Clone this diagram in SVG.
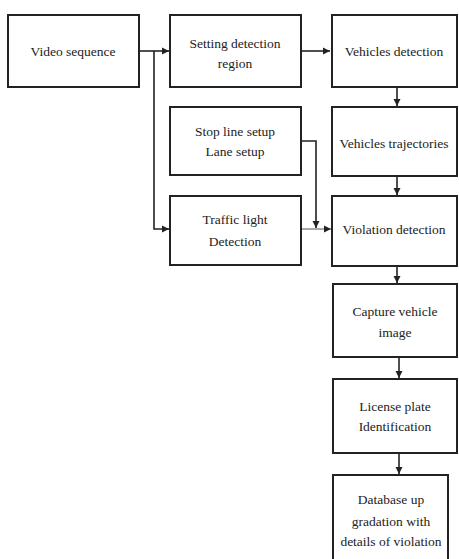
<svg xmlns="http://www.w3.org/2000/svg" width="459" height="559" viewBox="0 0 459 559">
<style>
.box{fill:#fff;stroke:#222;stroke-width:2}
.t{font-family:"Liberation Serif","Times New Roman",serif;font-size:13.5px;fill:#222;text-anchor:middle}
.c{fill:none;stroke:#222;stroke-width:1.6}
.thin{fill:none;stroke:#555;stroke-width:1}
</style>
<defs>
<marker id="ah" markerWidth="8" markerHeight="8" refX="7" refY="4" orient="auto" markerUnits="userSpaceOnUse">
<path d="M0,0.5 L7,4 L0,7.5 Z" fill="#222"/>
</marker>
</defs>
<rect width="459" height="559" fill="#fff"/>
<g id="connectors">
<path class="c" d="M139,51 H169" marker-end="url(#ah)"/>
<path class="c" d="M154,51 V229 H169" marker-end="url(#ah)"/>
<path class="c" d="M301,51 H330" marker-end="url(#ah)" stroke-width="2.4"/>
<path class="c" d="M397,87 V106" marker-end="url(#ah)"/>
<path class="c" d="M301,141 H316 V228" marker-end="url(#ah)"/>
<path class="thin" d="M301,229 H331" marker-end="url(#ah)"/>
<path class="c" d="M397,176 V195" marker-end="url(#ah)"/>
<path class="c" d="M397,266 V283" marker-end="url(#ah)"/>
<path class="c" d="M399,357 V378" marker-end="url(#ah)"/>
<path class="c" d="M399,453 V474" marker-end="url(#ah)"/>
</g>
<g id="video">
<rect class="box" x="8" y="15" width="131" height="72"/>
<text class="t" x="73" y="56">Video sequence</text>
</g>
<g id="setting">
<rect class="box" x="170" y="15" width="131" height="72"/>
<text class="t" x="235" y="48">Setting detection</text>
<text class="t" x="235" y="68">region</text>
</g>
<g id="vdetect">
<rect class="box" x="332" y="15" width="125" height="72"/>
<text class="t" x="394" y="56">Vehicles detection</text>
</g>
<g id="stopline">
<rect class="box" x="170" y="107" width="131" height="68"/>
<text class="t" x="235" y="136">Stop line setup</text>
<text class="t" x="235" y="156">Lane setup</text>
</g>
<g id="traj">
<rect class="box" x="332" y="107" width="125" height="69"/>
<text class="t" x="394" y="148">Vehicles trajectories</text>
</g>
<g id="traffic">
<rect class="box" x="170" y="196" width="131" height="69"/>
<text class="t" x="235" y="224">Traffic light</text>
<text class="t" x="235" y="246">Detection</text>
</g>
<g id="violation">
<rect class="box" x="332" y="196" width="125" height="70"/>
<text class="t" x="394" y="234">Violation detection</text>
</g>
<g id="capture">
<rect class="box" x="333" y="284" width="124" height="73"/>
<text class="t" x="395" y="316">Capture vehicle</text>
<text class="t" x="395" y="337">image</text>
</g>
<g id="license">
<rect class="box" x="333" y="379" width="124" height="74"/>
<text class="t" x="395" y="411">License plate</text>
<text class="t" x="395" y="431">Identification</text>
</g>
<g id="database">
<rect class="box" x="333" y="475" width="115" height="90"/>
<text class="t" x="391" y="504">Database up</text>
<text class="t" x="391" y="526">gradation with</text>
<text class="t" x="391" y="546">details of violation</text>
</g>
</svg>
